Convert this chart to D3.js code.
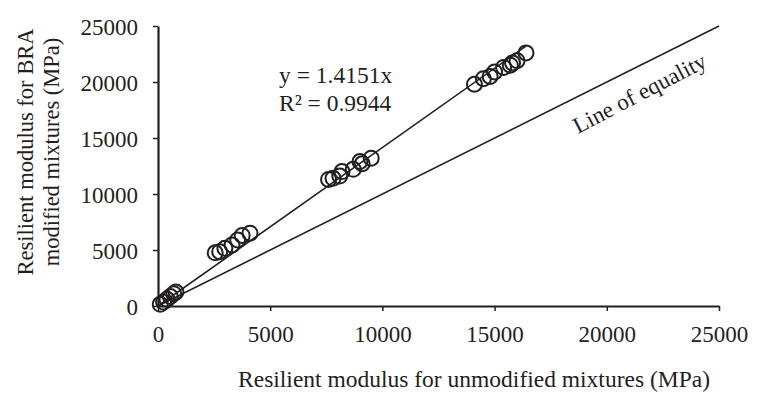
<!DOCTYPE html>
<html lang="en">
<head>
  <meta charset="UTF-8">
  <title>Resilient modulus comparison</title>
  <script src="https://d3js.org/d3.v7.min.js"></script>
  <style>
    body { margin: 0; background: #fff; }
    text { font-family: "Liberation Serif", "Times New Roman", serif; fill: #231f20; }
  </style>
</head>
<body>
  <svg width="757" height="400"></svg>

  <script>
    // unmodified mixture modulus (MPa)
    const unmodified = [100, 250, 400, 550, 700, 800,
      2550, 2750, 2980, 3300, 3550, 3750, 4100,
      7600, 7800, 8100, 8200, 8700, 9000, 9100, 9500,
      14100, 14500, 14800, 15000, 15400, 15700, 15800, 16000, 16400];
    // BRA modified mixture modulus (MPa)
    const modified = [150, 350, 600, 850, 1100, 1250,
      4750, 4850, 5150, 5450, 5900, 6300, 6500,
      11300, 11400, 11600, 12000, 12200, 12900, 12700, 13200,
      19800, 20300, 20500, 20900, 21300, 21500, 21700, 21900, 22600];

    const ticks = [0, 5000, 10000, 15000, 20000, 25000];
    const slope = 1.4151;
    const r2 = 0.9944;

    const svg = d3.select("svg");
    const margin = { left: 158, right: 38, top: 26, bottom: 94 };
    const width = 757 - margin.left - margin.right;
    const height = 400 - margin.top - margin.bottom;

    const g = svg.append("g")
        .attr("transform", `translate(${margin.left},${margin.top})`);

    const x = d3.scaleLinear().domain([0, 25000]).range([0, width]);
    const y = d3.scaleLinear().domain([0, 25000]).range([height, 0]);

    // axes
    const xAxis = g.append("g")
        .attr("transform", `translate(0,${height})`)
        .call(d3.axisBottom(x).tickValues(ticks).tickFormat(d3.format("d"))
          .tickSize(5).tickSizeOuter(0).tickPadding(15));
    const yAxis = g.append("g")
        .call(d3.axisLeft(y).tickValues(ticks).tickFormat(d3.format("d"))
          .tickSize(5).tickSizeOuter(0).tickPadding(15));

    [xAxis, yAxis].forEach(a => {
      a.select(".domain").attr("stroke", "#231f20").attr("stroke-width", 2.2);
      a.selectAll(".tick line").attr("stroke", "#231f20").attr("stroke-width", 1.5);
      a.selectAll(".tick text")
          .attr("font-family", "Liberation Serif, serif")
          .attr("font-size", 23)
          .attr("fill", "#231f20");
    });
    yAxis.selectAll(".tick text").attr("dy", "0.35em");

    // line of equality
    g.append("line")
        .attr("x1", x(0)).attr("y1", y(0))
        .attr("x2", x(25000)).attr("y2", y(25000))
        .attr("stroke", "#231f20").attr("stroke-width", 1.6);

    // trend line
    const xmax = d3.max(unmodified);
    g.append("line")
        .attr("x1", x(0)).attr("y1", y(0))
        .attr("x2", x(xmax)).attr("y2", y(xmax * slope))
        .attr("stroke", "#231f20").attr("stroke-width", 1.6);

    // points
    g.selectAll("circle")
        .data(unmodified.map((d, i) => [d, modified[i]]))
        .enter().append("circle")
        .attr("cx", d => x(d[0]))
        .attr("cy", d => y(d[1]))
        .attr("r", 7.5)
        .attr("fill", "none")
        .attr("stroke", "#231f20")
        .attr("stroke-width", 2);

    // equation
    svg.append("text")
        .attr("x", 279).attr("y", 83)
        .attr("font-size", 23.5)
        .text(`y = ${slope}x`);
    svg.append("text")
        .attr("x", 279).attr("y", 111)
        .attr("font-size", 23.5)
        .text(`R² = ${r2}`);

    // line of equality label
    const angle = Math.atan2(y(25000) - y(0), x(25000) - x(0)) * 180 / Math.PI;
    svg.append("text")
        .attr("transform", `translate(578,134) rotate(${angle - 1})`)
        .attr("font-size", 23)
        .text("Line of equality");

    // axis titles
    svg.append("text")
        .attr("x", 474)
        .attr("y", 387)
        .attr("text-anchor", "middle")
        .attr("font-size", 23.5)
        .text("Resilient modulus for unmodified mixtures (MPa)");

    const yt = svg.append("text")
        .attr("transform", `translate(0,152) rotate(-90)`)
        .attr("text-anchor", "middle")
        .attr("font-size", 22.5);
    yt.append("tspan").attr("x", 0).attr("y", 33).text("Resilient modulus for BRA");
    yt.append("tspan").attr("x", 0).attr("y", 59).text("modified mixtures (MPa)");
  </script>
</body>
</html>
